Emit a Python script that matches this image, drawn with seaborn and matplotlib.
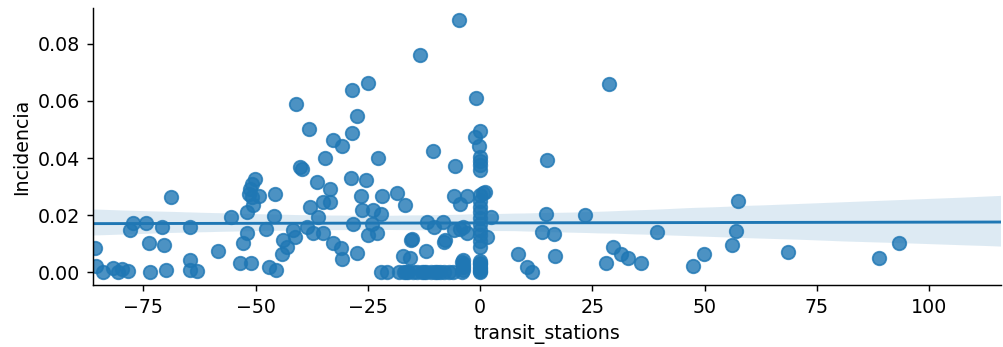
import numpy as np
import pandas as pd
import matplotlib
matplotlib.use("Agg")
import matplotlib.pyplot as plt
import seaborn as sns

# transit_stations values (x) and Incidencia values (y)
transit_stations = [
    -85.7, -85.5, -84.0, -81.7, -80.6, -79.8, -78.3, -78.0, -77.4, -74.5,
    -73.7, -73.5, -70.8, -70.4, -69.9, -68.8, -64.7, -64.7, -64.6, -63.0,
    -58.3, -55.5,
    -41.0, -38.2, -40.1, -39.7, -36.4, -50.1, -50.7, -51.2, -51.4, -50.9,
    -49.2, -45.7, -50.5, -51.9, -46.0, -47.7, -51.9, -52.7, -53.5, -51.1,
    -46.9, -45.4, -43.8, -43.1, -44.2, -41.6, -41.2, -37.9, -38.6, -37.1,
    -24.9, -28.6, -27.3, -28.6, -32.7, -30.7, -34.5, -22.8, -28.8, -25.4,
    -33.4, -34.9, -33.4, -26.6, -21.9, -18.4, -16.7, -26.3, -23.9, -22.0,
    -36.0, -28.4, -24.1, -34.9, -24.9, -23.0, -32.8, -31.0, -30.7, -27.3,
    -15.4, -17.1, -15.7,
    -22.0, -20.8, -18.0, -17.0, -16.0, -15.0, -14.0, -13.0, -12.0, -11.0,
    -10.0, -9.0, -8.0, -7.0, -6.0, -16.5, -12.5, -9.5,
    -4.6, -13.4, -0.9, 0.0, -1.1, -0.2, 0.0, 0.0, 0.0, 0.0,
    -10.5, -5.6, -5.9, -3.0, -4.5, 0.7, 2.4, -11.9, -10.2, -8.3,
    -5.9, -4.5, -15.2, -8.0, -12.1, -3.9, 1.5, 8.5, 10.4, 11.5,
    15.0, 14.7, 23.4, 13.7, 16.5, 16.7, -7.8, -4.1, -4.1,
    28.6, 57.4, 57.0, 56.0, 39.5, 29.7, 31.3, 33.0, 28.1, 35.8,
    47.5, 49.9, 68.5, 88.9, 93.3,
    1.1, 0.0, 0.0, 0.0, 0.0, 0.0, 0.0, 0.0, 0.0, 0.0,
    0.0, -3.7, -3.0, 0.0, 0.0, 0.0, -3.7, -3.7,
    0.0, 0.0, 0.0, 0.0, -3.7,
]
incidencia = [
    0.0085, 0.0021, 0.0000, 0.0015, 0.0000, 0.0012, 0.0006, 0.0148, 0.0174, 0.0174,
    0.0102, 0.0000, 0.0160, 0.0096, 0.0007, 0.0264, 0.0160, 0.0042, 0.0010, 0.0006,
    0.0076, 0.0194,
    0.0588, 0.0501, 0.0368, 0.0362, 0.0316, 0.0328, 0.0310, 0.0293, 0.0276, 0.0264,
    0.0266, 0.0276, 0.0235, 0.0212, 0.0197, 0.0151, 0.0137, 0.0104, 0.0033, 0.0033,
    0.0019, 0.0007, 0.0114, 0.0090, 0.0065, 0.0148, 0.0125, 0.0229, 0.0160, 0.0137,
    0.0663, 0.0637, 0.0548, 0.0486, 0.0463, 0.0443, 0.0399, 0.0399, 0.0331, 0.0324,
    0.0293, 0.0247, 0.0247, 0.0266, 0.0266, 0.0278, 0.0235, 0.0218, 0.0220, 0.0206,
    0.0194, 0.0168, 0.0168, 0.0139, 0.0131, 0.0137, 0.0104, 0.0085, 0.0047, 0.0067,
    0.0114, 0.0056, 0.0050,
    0.0000, 0.0000, 0.0000, 0.0000, 0.0000, 0.0000, 0.0000, 0.0000, 0.0000, 0.0000,
    0.0000, 0.0000, 0.0000, 0.0000, 0.0003, 0.0000, 0.0000, 0.0000,
    0.0883, 0.0762, 0.0611, 0.0493, 0.0472, 0.0443, 0.0403, 0.0390, 0.0375, 0.0360,
    0.0426, 0.0374, 0.0266, 0.0266, 0.0241, 0.0278, 0.0194, 0.0177, 0.0160, 0.0177,
    0.0148, 0.0151, 0.0116, 0.0108, 0.0076, 0.0044, 0.0124, 0.0064, 0.0020, 0.0000,
    0.0394, 0.0206, 0.0200, 0.0142, 0.0133, 0.0058, 0.0114, 0.0038, 0.0000,
    0.0658, 0.0250, 0.0146, 0.0096, 0.0140, 0.0090, 0.0065, 0.0050, 0.0033, 0.0033,
    0.0024, 0.0064, 0.0070, 0.0050, 0.0104,
    0.0281, 0.0270, 0.0250, 0.0230, 0.0210, 0.0190, 0.0170, 0.0150, 0.0130, 0.0110,
    0.0090, 0.0160, 0.0137, 0.0040, 0.0020, 0.0005, 0.0030, 0.0010,
    0.0000, 0.0012, 0.0028, 0.0034, 0.0020,
]

df = pd.DataFrame({"transit_stations": transit_stations, "Incidencia": incidencia})

plt.rcParams["font.size"] = 10.5
fig = plt.figure(figsize=(1003 / 130, 347 / 130), dpi=130)
ax = fig.add_axes([93 / 1003, 1 - 285 / 347, (1001 - 93) / 1003, (285 - 8) / 347])
xlim = (-86.2, 116.0)
ylim = (-0.0044, 0.0925)
ax.set_xlim(*xlim)
ax.set_ylim(*ylim)

sns.regplot(data=df, x="transit_stations", y="Incidencia", ax=ax,
            truncate=False, seed=0, color="#1f77b4",
            scatter_kws={"s": 56}, line_kws={"lw": 1.6})

ax.set_xlim(*xlim)
ax.set_ylim(*ylim)
ax.set_xticks([-75, -50, -25, 0, 25, 50, 75, 100])
ax.set_yticks([0.0, 0.02, 0.04, 0.06, 0.08])
ax.set_yticklabels(["0.00", "0.02", "0.04", "0.06", "0.08"])
ax.tick_params(labelsize=10.5)
sns.despine(ax=ax)

fig.savefig("out.png", dpi=130)
